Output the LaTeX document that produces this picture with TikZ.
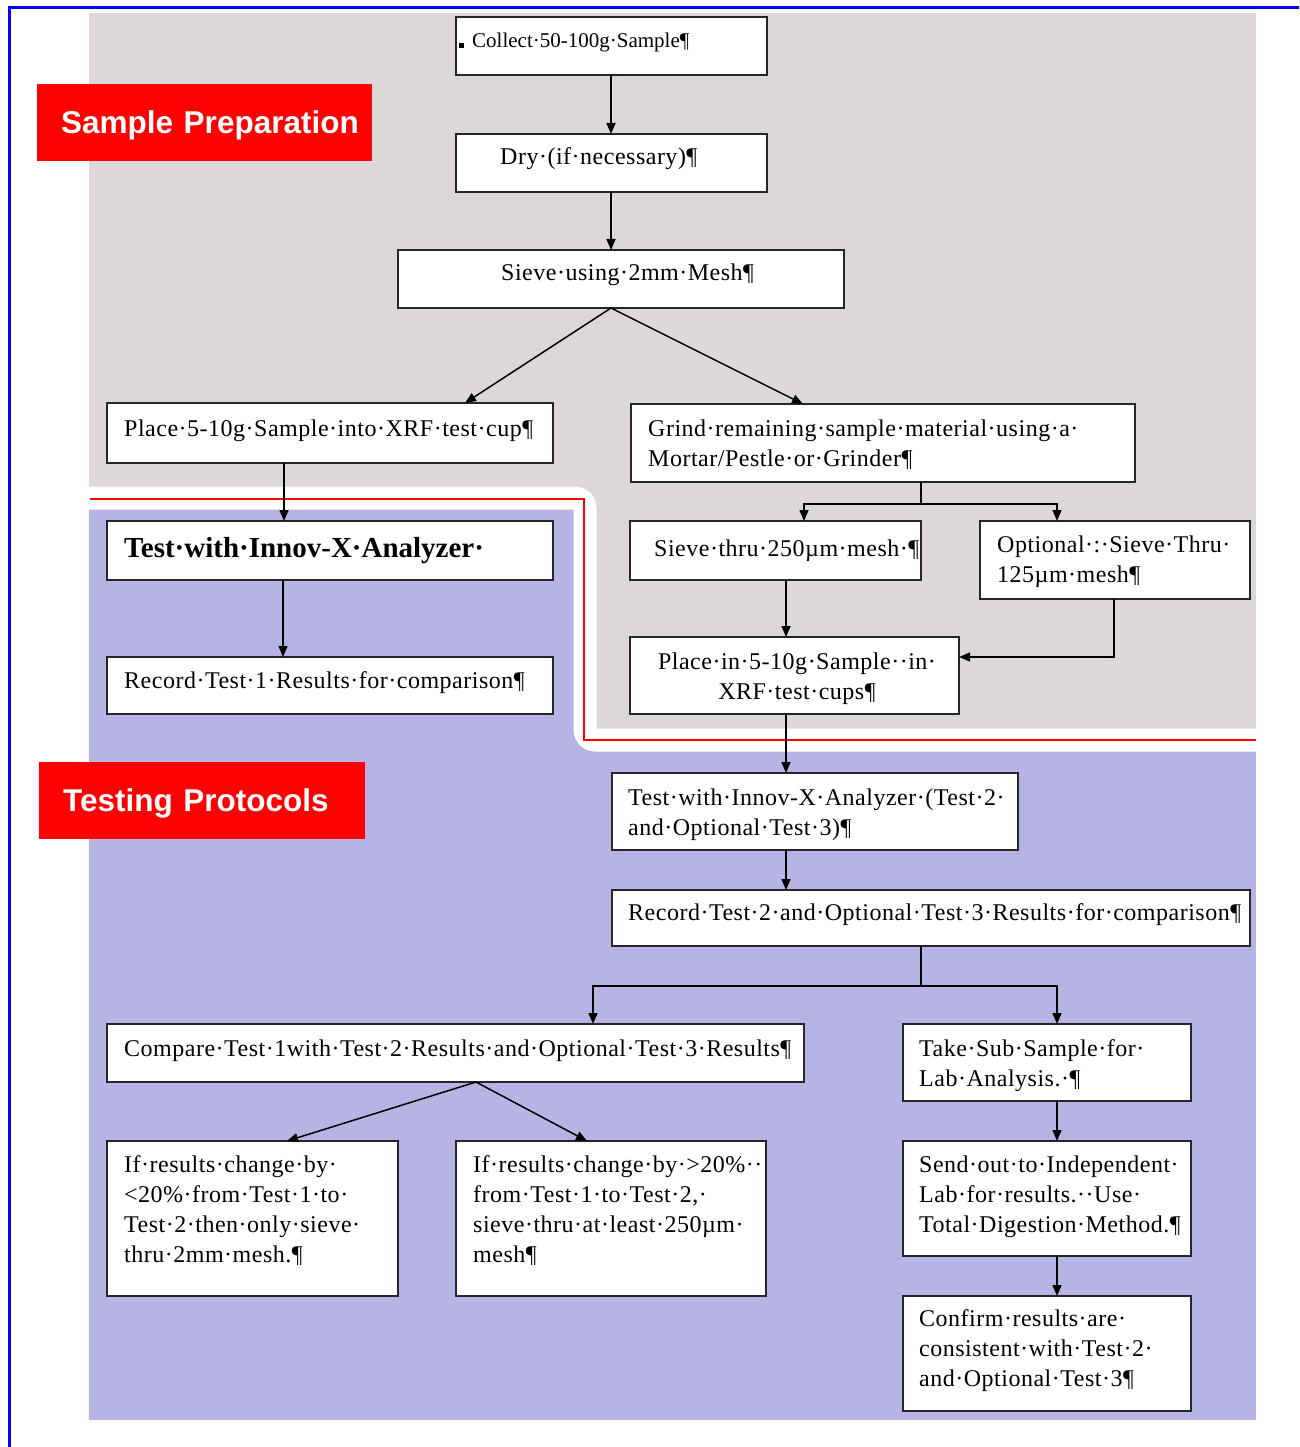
\documentclass[tikz,border=0pt]{standalone}
\usepackage{fontspec}
\setmainfont{Liberation Serif}
\newfontfamily\boxfont[LetterSpace=2.1]{Liberation Serif}
\newfontfamily\labfont{Liberation Sans}
\usetikzlibrary{arrows.meta,calc}
\definecolor{bggray}{RGB}{220,216,216}
\definecolor{bgpurple}{RGB}{183,179,228}
\definecolor{lblred}{RGB}{255,0,0}
\definecolor{frameblue}{RGB}{0,0,255}
\begin{document}
\begin{tikzpicture}[x=1pt,y=-1pt,
  box/.style={draw=black!85, line width=1.5pt, fill=white, anchor=north west, inner sep=0pt, outer sep=0pt},
  txt/.style={font=\boxfont\fontsize{24}{30}\selectfont, align=left, anchor=north west, inner sep=0pt},
  ctxt/.style={font=\boxfont\fontsize{24}{30}\selectfont, align=center, anchor=north, inner sep=0pt},
  arr/.style={line width=1.5pt, -{Triangle[length=11pt,width=9pt]}},
  conn/.style={line width=1.5pt},
  lbl/.style={fill=lblred, text=white, font=\labfont\bfseries\fontsize{31.5}{38}\selectfont, inner xsep=24pt, inner ysep=0pt, text height=22pt, text depth=0pt, align=left, anchor=north west}]

\useasboundingbox (0,0) rectangle (1299,1447);
\fill[white] (0,0) rectangle (1299,1447);

% backgrounds
\fill[bgpurple] (89,13) rectangle (1256,1420);
\fill[bggray] (89,13) -- (1256,13) -- (1256,740) -- (584,740) -- (584,499) -- (89,499) -- cycle;
\begin{scope}
  \clip (89,13) rectangle (1256,1420);
  \draw[white, line width=23pt, rounded corners=10pt] (70,498) -- (585,498) -- (585,740) -- (1275,740);
\end{scope}
\draw[red, line width=2pt] (90,499) -- (584,499) -- (584,740) -- (1256,740);

% frame
\draw[frameblue, line width=3.3pt] (9.5,1447) -- (9.5,7.5) -- (1299,7.5);

% boxes
\node[box, minimum width=311pt, minimum height=58pt] (b1) at (456,17) {};
\node[box, minimum width=311pt, minimum height=58pt] (b2) at (456,134) {};
\node[box, minimum width=446pt, minimum height=58pt] (b3) at (398,250) {};
\node[box, minimum width=446pt, minimum height=60pt] (b4) at (107,403) {};
\node[box, minimum width=504pt, minimum height=78pt] (b5) at (631,404) {};
\node[box, minimum width=446pt, minimum height=59pt] (b6) at (107,521) {};
\node[box, minimum width=446pt, minimum height=57pt] (b7) at (107,657) {};
\node[box, minimum width=291pt, minimum height=59pt] (b8) at (630,521) {};
\node[box, minimum width=270pt, minimum height=78pt] (b9) at (980,521) {};
\node[box, minimum width=329pt, minimum height=77pt] (b10) at (630,637) {};
\node[box, minimum width=406pt, minimum height=77pt] (b11) at (612,773) {};
\node[box, minimum width=638pt, minimum height=56pt] (b12) at (612,890) {};
\node[box, minimum width=697pt, minimum height=58pt] (b13) at (107,1024) {};
\node[box, minimum width=288pt, minimum height=77pt] (b14) at (903,1024) {};
\node[box, minimum width=291pt, minimum height=155pt] (b15) at (107,1141) {};
\node[box, minimum width=310pt, minimum height=155pt] (b16) at (456,1141) {};
\node[box, minimum width=288pt, minimum height=115pt] (b17) at (903,1141) {};
\node[box, minimum width=288pt, minimum height=115pt] (b18) at (903,1296) {};

% texts
\fill[black] (459,43) rectangle (464,48);
\node[txt, font=\setmainfont{Liberation Serif}\fontsize{21}{26}\selectfont] (t1) at (472,29) {\strut Collect·50-100g·Sample¶};
\node[txt] (t2) at (500,143) {\strut Dry·(if·necessary)¶};
\node[txt] (t3) at (501,259) {\strut Sieve·using·2mm·Mesh¶};
\node[txt] (t4) at (124,415) {\strut Place·5-10g·Sample·into·XRF·test·cup¶};
\node[txt] (t5) at (648,415) {\strut Grind·remaining·sample·material·using·a·\\Mortar/Pestle·or·Grinder¶};
\node[txt, font=\bfseries\fontsize{29}{35}\selectfont] (t6) at (124,532.5) {\strut Test·with·Innov-X·Analyzer·};
\node[txt] (t7) at (124,667) {\strut Record·Test·1·Results·for·comparison¶};
\node[txt] (t8) at (654,535) {\strut Sieve·thru·250µm·mesh·¶};
\node[txt] (t9) at (997,531) {\strut Optional·:·Sieve·Thru·\\125µm·mesh¶};
\node[ctxt] (t10) at (797,648) {\strut Place·in·5-10g·Sample··in·\\XRF·test·cups¶};
\node[txt] (t11) at (628,784) {\strut Test·with·Innov-X·Analyzer·(Test·2·\\and·Optional·Test·3)¶};
\node[txt] (t12) at (628,899) {\strut Record·Test·2·and·Optional·Test·3·Results·for·comparison¶};
\node[txt] (t13) at (124,1035) {\strut Compare·Test·1with·Test·2·Results·and·Optional·Test·3·Results¶};
\node[txt] (t14) at (919,1035) {\strut Take·Sub·Sample·for·\\Lab·Analysis.·¶};
\node[txt] (t15) at (124,1151) {\strut If·results·change·by·\\<20\%·from·Test·1·to·\\Test·2·then·only·sieve·\\thru·2mm·mesh.¶};
\node[txt] (t16) at (473,1151) {\strut If·results·change·by·>20\%··\\from·Test·1·to·Test·2,·\\sieve·thru·at·least·250µm·\\mesh¶};
\node[txt] (t17) at (919,1151) {\strut Send·out·to·Independent·\\Lab·for·results.··Use·\\Total·Digestion·Method.¶};
\node[txt] (t18) at (919,1305) {\strut Confirm·results·are·\\consistent·with·Test·2·\\and·Optional·Test·3¶};

% section labels
\node[lbl, text width=287pt, minimum height=77pt] (lab1) at (37,84) {\mbox{Sample Preparation}};
\node[lbl, text width=278pt, minimum height=77pt] (lab2) at (39,762) {\mbox{Testing Protocols}};

% connectors
\draw[arr] (b1.south -| 611,0) -- (b2.north -| 611,0);
\draw[arr] (b2.south -| 611,0) -- (b3.north -| 611,0);
\draw[arr] (b3.south -| 611,0) -- (b4.north -| 465,0);
\draw[arr] (b3.south -| 611,0) -- (b5.north -| 803,0);
\draw[arr] (b4.south -| 284,0) -- (b6.north -| 284,0);
\draw[arr] (b6.south -| 283,0) -- (b7.north -| 283,0);
\coordinate (j1) at (921,504);
\draw[conn] (b5.south -| j1) -- (j1);
\draw[arr] (j1) -| (b8.north -| 804,0);
\draw[arr] (j1) -| (b9.north -| 1057,0);
\draw[arr] (b8.south -| 786,0) -- (b10.north -| 786,0);
\draw[arr] (b9.south -| 1114,0) |- (b10.east |- 0,657);
\draw[arr] (b10.south -| 786,0) -- (b11.north -| 786,0);
\draw[arr] (b11.south -| 786,0) -- (b12.north -| 786,0);
\coordinate (j2) at (921,986);
\draw[conn] (b12.south -| j2) -- (j2);
\draw[arr] (j2) -| (b13.north -| 593,0);
\draw[arr] (j2) -| (b14.north -| 1057,0);
\draw[arr] (b13.south -| 476,0) -- (b15.north -| 287,0);
\draw[arr] (b13.south -| 476,0) -- (b16.north -| 587,0);
\draw[arr] (b14.south -| 1057,0) -- (b17.north -| 1057,0);
\draw[arr] (b17.south -| 1057,0) -- (b18.north -| 1057,0);
\end{tikzpicture}
\end{document}
